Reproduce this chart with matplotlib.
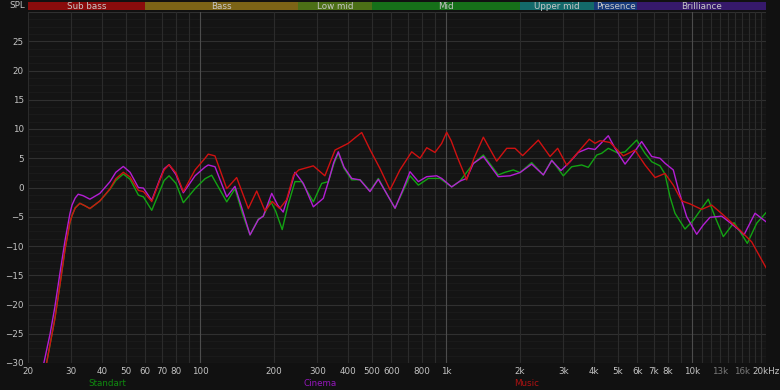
import numpy as np
import matplotlib.pyplot as plt

# frequency response, Hz / dB
f_std = [23.8, 25.7, 27.0, 28.3, 29.6, 30.2, 31.1, 32.5, 34.0, 35.7, 39.2, 43.1, 45.5, 48.8, 52.0,
         56.2, 58.9, 63.7, 68.8, 71.5, 74.9, 79.9, 85.6, 95.5, 104.9, 111.6, 128.5, 138.8, 149,
         159.8, 172.7, 180.9, 193.5, 203, 216, 228, 243.4, 259.2, 289, 312.6, 332.5, 350, 365.1,
         385, 414, 447.4, 491.2, 531, 575, 620.9, 671, 714.4, 772.4, 848, 945.8, 1055, 1141,
         1292, 1419, 1632, 1738, 1879, 2000, 2231, 2488, 2692, 3000, 3245, 3564, 3790,
         4101, 4297, 4571, 5020, 5346, 5962, 6444, 6862, 7416, 7771, 8145, 8533, 9370,
         10128, 11652, 12408, 13412, 14824, 15682, 16790, 18336, 20000]
db_std = [-30, -22.5, -16.5, -10.5, -6.0, -4.8, -3.5, -2.7, -3.1, -3.6, -2.3, -0.3, 1.2, 2.3, 1.4,
          -1.3, -1.6, -3.9, -0.5, 1.2, 2.0, 0.7, -2.6, -0.2, 1.5, 2.1, -2.45, -0.2, -4.5,
          -8.1, -5.4, -4.9, -2.3, -4.0, -7.2, -3.0, 1.0, 1.0, -2.45, 0.7, 1.0, 4.0, 5.9,
          3.3, 1.3, 1.35, -0.6, 1.55, -1.1, -3.55, -0.5, 2.0, 0.4, 1.55, 1.55, 0.1, 1.1,
          4.1, 5.55, 2.15, 2.6, 3.0, 2.55, 4.25, 2.15, 4.7, 2.0, 3.55, 3.85, 3.45,
          5.55, 5.85, 6.7, 5.85, 6.1, 8.1, 5.85, 4.4, 3.7, 2.3, -1.6, -4.4, -7.1,
          -5.6, -2.0, -5.0, -8.4, -6.0, -7.55, -9.55, -6.1, -4.3]

f_cin = [23.2, 24.6, 25.7, 27.0, 28.3, 29.6, 30.2, 31.1, 32.0, 33.5, 35.7, 39.2, 43.1, 45.5, 48.8,
         52.0, 56.2, 58.9, 63.7, 68.8, 71.5, 74.9, 79.9, 85.6, 95.5, 104.9, 108.1, 115.1, 128.5,
         138.8, 149, 159.8, 172.7, 180.9, 195.8, 207, 218, 230, 243.4, 263.2, 289, 317.3,
         332.5, 350, 365.1, 385, 414, 447.4, 491.2, 531, 575, 620.9, 671, 714.4, 772.4, 835.4, 917,
         961, 1055, 1141, 1214, 1292, 1419, 1632, 1821, 2000, 2231, 2488, 2692, 2936,
         3194, 3452, 3790, 4036, 4571, 4867, 5346, 5776, 6247, 6862, 7416, 7771, 8399,
         8801, 9520, 10454, 11120, 11840, 13212, 14280, 15682, 16278, 18046, 20000]
db_cin = [-30, -25, -20.5, -14.5, -9.0, -4.5, -3.0, -1.8, -1.15, -1.4, -2.0, -1.0, 1.0, 2.6, 3.6,
          2.6, 0.0, -0.1, -2.2, 1.5, 3.2, 3.9, 2.2, -0.9, 2.0, 3.5, 3.85, 3.55, -1.6,
          0.2, -3.9, -8.1, -5.5, -4.9, -1.0, -3.0, -4.2, -1.0, 2.6, 0.7, -3.3, -1.85,
          0.95, 4.3, 6.1, 3.5, 1.55, 1.3, -0.7, 1.4, -1.1, -3.55, -0.2, 2.7, 1.0, 1.85, 2.0,
          1.55, 0.1, 1.1, 1.55, 4.1, 5.3, 1.85, 2.0, 2.55, 4.0, 2.15, 4.6, 2.9,
          4.4, 6.0, 6.7, 6.5, 8.85, 6.7, 4.0, 5.85, 7.85, 5.3, 5.0, 4.15, 3.0,
          -0.3, -5.0, -8.0, -6.4, -5.1, -4.9, -6.0, -7.4, -8.1, -4.4, -5.85]

f_mus = [23.8, 25.7, 27.0, 28.3, 29.6, 30.2, 31.1, 32.5, 34.0, 35.7, 39.2, 43.1, 45.5, 48.8, 52.0,
         56.2, 58.9, 63.7, 68.8, 71.5, 74.9, 79.9, 85.6, 95.5, 104.9, 108.1, 115.1, 128.5, 141,
         157.3, 170.1, 183.8, 196.9, 211, 225, 240, 252, 289, 322, 354, 400.9, 430, 454.6,
         491, 540, 592.5, 650, 725.8, 784.8, 835.4, 902.6, 960, 1007, 1050, 1110, 1214, 1300, 1419,
         1608, 1766, 1909, 2051, 2374, 2649, 2846, 3097, 3452, 3826, 4036, 4229, 4645,
         5260, 5868, 6444, 7079, 7771, 8399, 9086, 9820, 10954, 12030, 13412, 15682,
         17496, 20000]
db_mus = [-30, -22.5, -16.5, -10.5, -6.0, -4.8, -3.5, -2.7, -3.1, -3.6, -2.3, -0.2, 1.5, 2.6, 1.8,
          -0.5, -0.7, -2.4, 1.3, 3.0, 3.9, 2.5, -0.7, 3.0, 5.0, 5.7, 5.4, -0.2, 1.7,
          -3.6, -0.6, -4.0, -2.4, -3.6, -2.1, 2.1, 3.0, 3.7, 2.0, 6.4, 7.55, 8.6, 9.4,
          6.5, 3.2, -0.4, 3.0, 6.1, 5.0, 6.8, 6.0, 7.5, 9.45, 8.0, 5.3, 1.3, 5.0, 8.6,
          4.5, 6.7, 6.7, 5.45, 8.1, 5.3, 6.7, 3.8, 6.1, 8.25, 7.55, 8.0, 7.7,
          5.4, 6.4, 3.85, 1.7, 2.4, 0.4, -2.3, -2.8, -3.75, -3.0, -4.7, -7.3,
          -9.3, -13.7]

bands = ["Sub bass", "Bass", "Low mid", "Mid", "Upper mid", "Presence", "Brilliance"]
band_edges = [20, 60, 250, 500, 2000, 4000, 6000, 20000]
band_colors = ["#8a0c0c", "#7c6416", "#4c6f16", "#167019", "#13696a", "#173a7a", "#36196b"]

xtick_vals = [20, 30, 40, 50, 60, 70, 80, 100, 200, 300, 400, 500, 600, 800,
              1000, 2000, 3000, 4000, 5000, 6000, 7000, 8000, 10000, 13000, 16000, 20000]
xtick_labels = ["20", "30", "40", "50", "60", "70", "80", "100", "200", "300", "400", "500",
                "600", "800", "1k", "2k", "3k", "4k", "5k", "6k", "7k", "8k", "10k",
                "13k", "16k", "20kHz"]
ytick_vals = list(range(-30, 30, 5))

series = [("Standart", f_std, db_std, "#13a313", "#0f8a0f"),
          ("Cinema", f_cin, db_cin, "#b41ed4", "#9316bb"),
          ("Music", f_mus, db_mus, "#cf1111", "#b01212")]

W, H = 780, 390
fig = plt.figure(figsize=(W / 100, H / 100), dpi=100, facecolor="#111111")
ax = fig.add_axes([28 / W, 27 / H, 738 / W, 351 / H])
ax.set_facecolor("#141414")
ax.set_xscale("log")
ax.set_xlim(20, 20000)
ax.set_ylim(-30, 30)

# grid
for v in np.arange(-30, 30.01, 1.25):
    if v % 5 == 0:
        ax.axhline(v, color="#303030", lw=0.8, zorder=1)
    else:
        ax.axhline(v, color="#1c1c1c", lw=0.6, zorder=0.5)
grid_f = list(range(20, 100, 10)) + list(range(100, 1000, 100)) + \
    list(range(1000, 10000, 1000)) + list(range(10000, 20001, 1000))
for g in grid_f:
    c = "#4c4c4c" if g in (100, 1000, 10000) else "#2b2b2b"
    ax.axvline(g, color=c, lw=0.8, zorder=1)

for name, f, d, c, tc in series:
    ax.plot(f, d, color=c, lw=1.0, zorder=3)

for s in ax.spines.values():
    s.set_visible(False)
ax.set_xticks(xtick_vals)
ax.set_xticklabels(xtick_labels)
ax.minorticks_off()
ax.set_yticks(ytick_vals)
ax.tick_params(length=0, labelsize=6.3, colors="#c4c4c4", pad=3)
for lab, val in zip(ax.get_xticklabels(), xtick_vals):
    if val in (13000, 16000):
        lab.set_color("#7a7a7a")

# band strip
bax = fig.add_axes([28 / W, 380 / H, 738 / W, 8 / H])
bax.set_xscale("log")
bax.set_xlim(20, 20000)
bax.set_ylim(0, 1)
bax.axis("off")
for i, b in enumerate(bands):
    lo, hi = band_edges[i], band_edges[i + 1]
    bax.axvspan(lo, hi, color=band_colors[i], lw=0)
    bax.text(np.sqrt(lo * hi), 0.45, b, ha="center", va="center",
             fontsize=6.3, color="#c8c8c8")

fig.text(25 / W, 1 - 5 / H, "SPL", ha="right", va="center", fontsize=6.3, color="#c4c4c4")

for (name, f, d, c, tc), xp in zip(series, [107, 320, 527]):
    fig.text(xp / W, 1 - 383 / H, name, ha="center", va="center", fontsize=6.3, color=tc)

fig.savefig("out.png", dpi=100, facecolor=fig.get_facecolor())
